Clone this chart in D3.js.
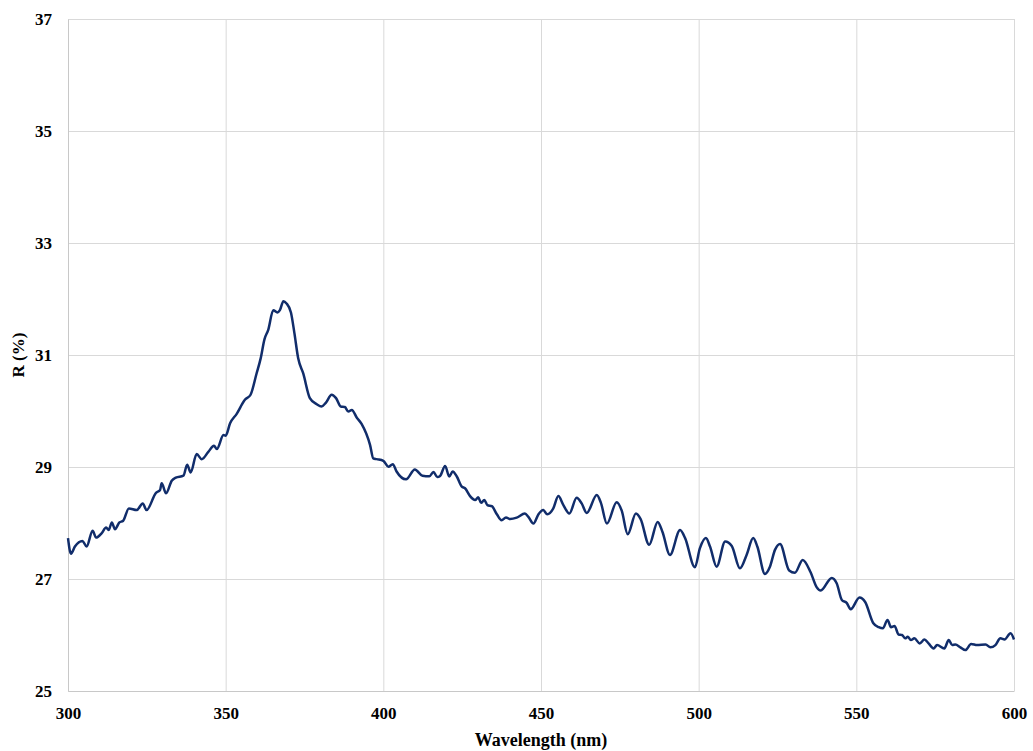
<!DOCTYPE html>
<html>
<head>
<meta charset="utf-8">
<script src="https://cdn.jsdelivr.net/npm/d3@7"></script>
<style>
  body { margin: 0; background: #fff; }
  text { font-family: "Liberation Serif", "Times New Roman", serif; font-weight: bold; }
</style>
</head>
<body>
<svg></svg>
<script>
// values
let wavelength = [
  300, 300.95, 302.2, 304.6, 305.9, 307.8, 308.9, 310.7, 312.1, 312.9, 313.9, 314.9, 316.3, 317.5,
  319.3, 321.8, 323.7, 324.9, 327.9, 329.2, 329.7, 331.1, 332.9, 334.2, 336.6, 337.8, 338.9, 340.8,
  342.4, 344.5, 346.3, 347.2, 349.3, 350.0, 351.4, 353.5, 356.1, 357.9, 359.8, 361.1, 362.3, 363.5,
  365.1, 366.4, 367.2, 368.3, 369.3, 370.7, 371.8, 373.0, 374.6, 376.7, 378.9, 380.4, 381.8, 383.6,
  385.0, 386.5, 387.8, 388.9, 390.0, 391.6, 393.1, 395.8, 396.8, 397.9, 400.0, 401.6, 403.0, 404.2,
  407.2, 410.0, 412.4, 414.6, 415.9, 417.1, 418.0, 419.6, 420.9, 422.0, 423.3, 424.9, 425.9, 427.5,
  429.1, 430.1, 431.0, 432.0, 433.0, 434.4, 436.0, 437.5, 438.9, 440.2, 442.3, 444.9, 446.0, 447.6,
  449.2, 450.7, 452.0, 453.9, 455.5, 457.1, 459.0, 461.3, 462.9, 464.5, 467.7, 469.0, 470.9, 474.0,
  475.6, 477.5, 480.1, 481.6, 484.3, 487.0, 488.5, 490.9, 494.1, 495.7, 498.8, 500.4, 502.3, 503.6,
  505.7, 508.4, 510.5, 513.1, 515.2, 517.3, 518.6, 521.0, 522.6, 524.2, 525.8, 528.7, 530.5, 533.0,
  535.5, 537.4, 538.7, 542.2, 543.8, 545.4, 547.0, 548.2, 551.0, 552.8, 555.4, 557.1, 558.4, 559.9,
  561.0, 562.1, 563.4, 564.5, 565.5, 566.3, 567.3, 568.4, 570.1, 571.6, 572.9, 574.5, 575.6, 577.9,
  579.3, 580.4, 581.4, 583.0, 584.6, 586.4, 588.3, 591.0, 592.5, 594.1, 595.7, 597.0, 598.9, 600
]
let reflectance = [
  27.73, 27.45, 27.58, 27.68, 27.58, 27.86, 27.74, 27.82, 27.92, 27.875, 28.01, 27.89, 28.01, 28.04,
  28.26, 28.23, 28.35, 28.23, 28.54, 28.59, 28.71, 28.53, 28.755, 28.81, 28.845, 29.04, 28.90, 29.23,
  29.14, 29.27, 29.38, 29.32, 29.57, 29.56, 29.78, 29.95, 30.20, 30.29, 30.67, 30.94, 31.28, 31.45,
  31.80, 31.76, 31.80, 31.96, 31.92, 31.76, 31.39, 30.94, 30.67, 30.23, 30.12, 30.08, 30.15, 30.29,
  30.23, 30.08, 30.07, 29.99, 30.02, 29.88, 29.77, 29.39, 29.155, 29.14, 29.11, 29.005, 29.05, 28.92,
  28.78, 28.955, 28.845, 28.835, 28.91, 28.82, 28.84, 29.02, 28.83, 28.92, 28.83, 28.65, 28.62, 28.48,
  28.41, 28.46, 28.36, 28.41, 28.32, 28.30, 28.155, 28.05, 28.10, 28.07, 28.095, 28.17, 28.11, 27.99,
  28.155, 28.23, 28.155, 28.26, 28.48, 28.32, 28.17, 28.45, 28.35, 28.18, 28.50, 28.36, 27.99, 28.37,
  28.22, 27.80, 28.17, 28.07, 27.61, 28.02, 27.845, 27.43, 27.875, 27.73, 27.21, 27.55, 27.73, 27.58,
  27.22, 27.67, 27.59, 27.19, 27.43, 27.73, 27.58, 27.09, 27.22, 27.52, 27.625, 27.15, 27.11, 27.34,
  27.12, 26.855, 26.795, 27.02, 26.92, 26.625, 26.57, 26.46, 26.67, 26.59, 26.21, 26.14, 26.12, 26.27,
  26.14, 26.16, 26.01, 26.00, 25.94, 25.97, 25.91, 25.94, 25.85, 25.92, 25.85, 25.76, 25.82, 25.76,
  25.91, 25.82, 25.83, 25.78, 25.73, 25.84, 25.82, 25.83, 25.78, 25.82, 25.94, 25.92, 26.03, 25.92
]
let xTicks = [300, 350, 400, 450, 500, 550, 600]
let yTicks = [25, 27, 29, 31, 33, 35, 37]

let width = 1033
let height = 751
let margin = {top: 19, right: 19, bottom: 60, left: 68}

let svg = d3.select("svg")
  .attr("width", width)
  .attr("height", height)

let xScale = d3.scaleLinear()
  .domain([300, 600])
  .range([margin.left, width - margin.right])

let yScale = d3.scaleLinear()
  .domain([25, 37])
  .range([height - margin.bottom, margin.top])

// grid lines
svg.append("g")
  .attr("class", "grid")
  .attr("transform", "translate(0," + (height - margin.bottom) + ")")
  .call(d3.axisBottom(xScale).tickValues(xTicks).tickSize(-(height - margin.top - margin.bottom)).tickFormat(""))
svg.append("g")
  .attr("class", "grid")
  .attr("transform", "translate(" + margin.left + ",0)")
  .call(d3.axisLeft(yScale).tickValues(yTicks).tickSize(-(width - margin.left - margin.right)).tickFormat(""))
svg.selectAll(".grid line").attr("stroke", "#d9d9d9").attr("stroke-width", 1)
svg.selectAll(".grid .domain").remove()

// axes with labels
svg.append("g")
  .attr("transform", "translate(0," + (height - margin.bottom) + ")")
  .call(d3.axisBottom(xScale).tickValues(xTicks).tickSize(0).tickPadding(16))
svg.append("g")
  .attr("transform", "translate(" + margin.left + ",0)")
  .call(d3.axisLeft(yScale).tickValues(yTicks).tickSize(0).tickPadding(16))

svg.selectAll(".domain").attr("stroke", "#c8c8c8").attr("stroke-width", 1)
svg.selectAll(".tick text")
  .style("font-family", "'Liberation Serif', serif")
  .style("font-weight", "bold")
  .style("font-size", "17px")
  .attr("fill", "#000")

// axis titles
svg.append("text")
  .attr("x", (margin.left + width - margin.right) / 2)
  .attr("y", 746)
  .attr("text-anchor", "middle")
  .style("font-size", "18px")
  .text("Wavelength (nm)")

svg.append("text")
  .attr("transform", "translate(24," + (height - margin.bottom + margin.top) / 2 + ") rotate(-90)")
  .attr("text-anchor", "middle")
  .style("font-size", "17px")
  .text("R (%)")

// spectrum line
let points = wavelength.map((w, i) => [w, reflectance[i]])
let line = d3.line()
  .x(d => xScale(d[0]))
  .y(d => yScale(d[1]))
  .curve(d3.curveMonotoneX)

svg.append("path")
  .datum(points)
  .attr("d", line)
  .attr("fill", "none")
  .attr("stroke", "#112d6b")
  .attr("stroke-width", 2.5)
  .attr("stroke-linejoin", "round")
</script>
</body>
</html>
